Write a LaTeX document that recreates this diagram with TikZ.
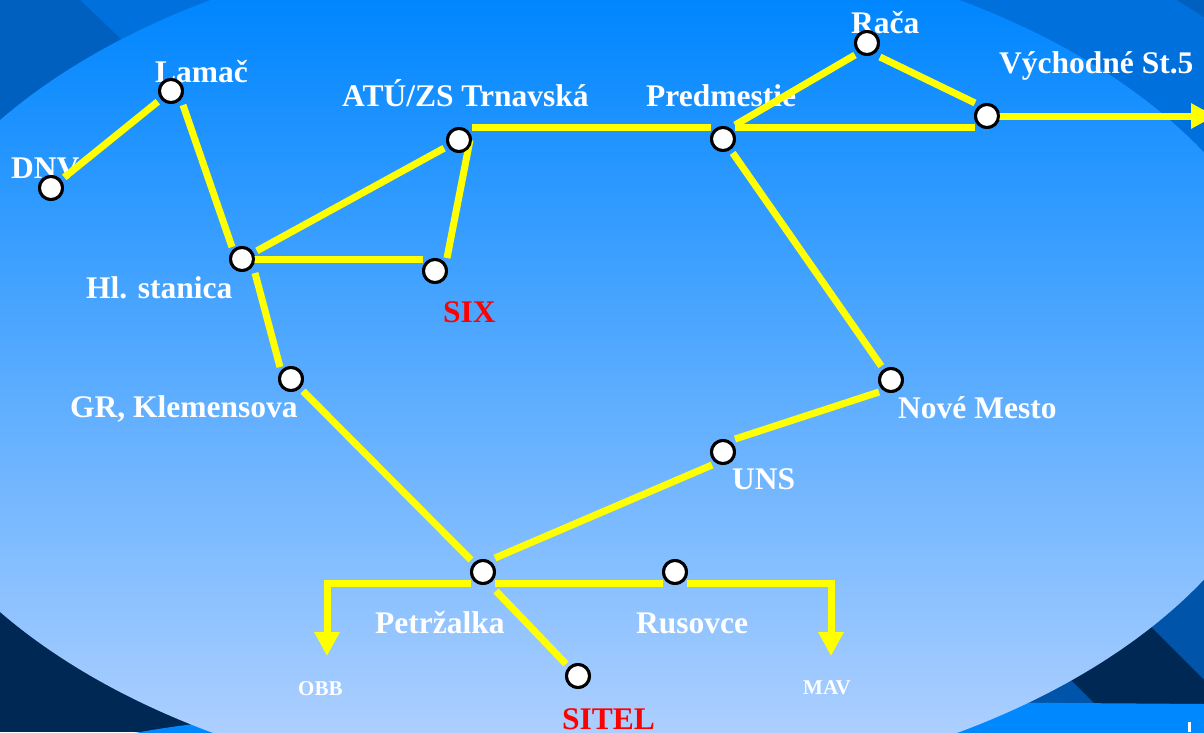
\documentclass[tikz,border=0pt]{standalone}
\usepackage{fontspec}
\setmainfont{Liberation Serif}
\usetikzlibrary{calc,arrows.meta}
\definecolor{outerblue}{RGB}{0,112,221}
\definecolor{darkblue}{RGB}{0,96,192}
\definecolor{navyblue}{RGB}{0,40,85}
\definecolor{midblue}{RGB}{0,85,170}
\definecolor{brightblue}{RGB}{0,136,255}
\definecolor{elltop}{RGB}{0,134,255}
\definecolor{ellbot}{RGB}{172,207,255}
\definecolor{lineyellow}{RGB}{255,255,0}
\begin{document}
\begin{tikzpicture}[x=1pt,y=-1pt,
  station/.style={circle,draw=black,fill=white,line width=3pt,minimum size=23pt,inner sep=0pt},
  lbl/.style={anchor=base west,inner sep=0pt,text=white,font=\bfseries\fontsize{31.5}{36}\selectfont},
  redlbl/.style={lbl,text=red},
  smalllbl/.style={lbl,font=\bfseries\fontsize{21}{24}\selectfont},
  link/.style={draw=lineyellow,line width=7pt},
  clink/.style={link,shorten <=4pt,shorten >=4pt},
  tip/.style={-{Triangle[length=24pt,width=24pt]}}
]
\useasboundingbox (0,0) rectangle (1204,732);
\clip (0,0) rectangle (1204,732);
% background
\fill[outerblue] (0,0) rectangle (1204,732);
\fill[darkblue] (0,0) -- (80,0) -- (400,305) -- (0,305) -- cycle;
\fill[darkblue] (1177,0) -- (1210,0) -- (1210,21) -- cycle;
\fill[navyblue] (0,380) rectangle (600,732);
\fill[midblue] (600,380) rectangle (1204,732);
\fill[navyblue] (900,509) -- (1250,859) -- (1250,726) -- (900,376) -- cycle;
\fill[brightblue] (130,734) .. controls (300,700) and (700,700) .. (1204,704) -- (1210,740) -- (130,740) -- cycle;
\begin{scope}
  \clip (585,366) ellipse [x radius=713pt, y radius=430pt];
  \shade[top color=elltop,bottom color=ellbot] (0,0) rectangle (1204,732);
\end{scope}
\fill[white] (1188,722) rectangle (1191,732);
% labels
\node[lbl] (tlamac) at (155,82) {Lamač};
\node[lbl] (tdnv) at (11,178) {DNV};
\node[lbl] (tatu) at (342,106) {ATÚ/ZS Trnavská};
\node[lbl] (tpred) at (646,106) {Predmestie};
\node[lbl] (traca) at (851,33) {Rača};
\node[lbl] (tvych) at (999,73) {Východné St.5};
\node[lbl] (thl) at (86,298) {Hl. stanica};
\node[redlbl] (tsix) at (443,322) {SIX};
\node[lbl] (tgr) at (70,417) {GR, Klemensova};
\node[lbl] (tnm) at (898,418) {Nové Mesto};
\node[lbl] (tuns) at (732,489) {UNS};
\node[lbl] (tpetr) at (375,633) {Petržalka};
\node[lbl] (trus) at (636,633) {Rusovce};
\node[smalllbl] (tobb) at (298,695) {OBB};
\node[smalllbl] (tmav) at (803,694) {MAV};
\node[redlbl] (tsitel) at (562,729) {SITEL};
% station positions
\path (51,188) coordinate (pdnv) (171,91) coordinate (plamac) (242,259) coordinate (phl)
      (459,140) coordinate (patu) (435,271) coordinate (psix) (723,139) coordinate (ppred)
      (867,43) coordinate (praca) (987,116) coordinate (pvych) (291,379) coordinate (pgr)
      (891,380) coordinate (pnm) (723,452) coordinate (puns) (483,572) coordinate (ppetr)
      (675,572) coordinate (prus) (578,676) coordinate (psitel);
\path (pdnv) node[station] (dnv) {} (plamac) node[station] (lamac) {} (phl) node[station] (hl) {}
      (patu) node[station] (atu) {} (psix) node[station] (six) {} (ppred) node[station] (pred) {}
      (praca) node[station] (raca) {} (pvych) node[station] (vych) {} (pgr) node[station] (gr) {}
      (pnm) node[station] (nm) {} (puns) node[station] (uns) {} (ppetr) node[station] (petr) {}
      (prus) node[station] (rus) {} (psitel) node[station] (sitel) {};
% links
\path[clink] (dnv) -- (lamac);
\path[link] ($(lamac.center)+(12,14)$) -- ($(hl.center)+(-10,-12)$);
\path[clink] (hl) -- (atu);
\path[link] ($(hl.center)+(12,0)$) -- ($(six.center)+(-12,-12)$);
\path[link] ($(atu.center)+(11,0)$) -- ($(six.center)+(12,-13)$);
\path[link] ($(atu.center)+(13,-12.5)$) -- ($(pred.center)+(-12,-11.5)$);
\path[link] ($(pred.center)+(12,-11.5)$) -- ($(vych.center)+(-12,11.5)$);
\path[link] ($(pred.center)+(12,-14)$) -- ($(raca.center)+(-12,12)$);
\path[link] ($(raca.center)+(13,14)$) -- ($(vych.center)+(-12,-13)$);
\coordinate (east) at (1215,116);
\path[link,tip] ($(vych.center)+(12,0)$) -- (east);
\path[clink] (pred) -- (nm);
\path[link] ($(nm.center)+(-12,12)$) -- ($(uns.center)+(12,-13)$);
\path[link] ($(uns.center)+(-11,13)$) -- ($(petr.center)+(12,-14)$);
\path[clink] (gr) -- (petr);
\path[link] ($(hl.center)+(13,14)$) -- ($(gr.center)+(-11,-12)$);
\path[link] ($(petr.center)+(13,19)$) -- ($(sitel.center)+(-12,-12)$);
\coordinate (obbcorner) at (327,583.5);
\coordinate (obb) at (327,656);
\coordinate (mavcorner) at (831,583.5);
\coordinate (mav) at (831,656);
\path[link,tip] ($(petr.center)+(-12,11.5)$) -- (obbcorner) -- (obb);
\path[link] ($(petr.center)+(12,11.5)$) -- ($(rus.center)+(-12,11.5)$);
\path[link,tip] ($(rus.center)+(12,11.5)$) -- (mavcorner) -- (mav);
% redraw stations on top of links
\foreach \s in {dnv,lamac,hl,atu,six,pred,raca,vych,gr,nm,uns,petr,rus,sitel}{
  \node[station] at (p\s) {};
}
\end{tikzpicture}
\end{document}
